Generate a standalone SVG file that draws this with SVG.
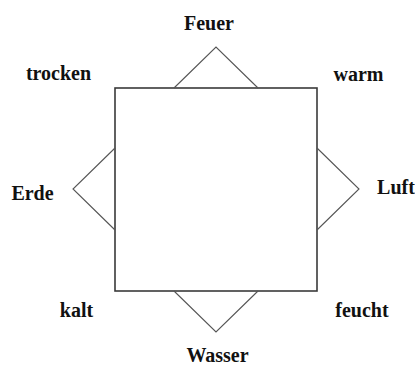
<svg xmlns="http://www.w3.org/2000/svg" width="415" height="369" viewBox="0 0 415 369">
<style>
.sq{fill:none;stroke:#3a3a3a;stroke-width:1.6}
.tri{fill:none;stroke:#555;stroke-width:1.1}
.lbl{font-family:"Liberation Serif","Times New Roman",serif;font-weight:bold;font-size:20px;fill:#111;text-anchor:middle}
</style>
<rect width="415" height="369" fill="#fff"/>
<g id="square"><rect class="sq" x="115" y="88" width="202" height="203"/></g>
<g id="connectors">
<polyline class="tri" points="174,88 216,47 258,88"/>
<polyline class="tri" points="317,148 359,189 317,230"/>
<polyline class="tri" points="174,291 216,332 258,291"/>
<polyline class="tri" points="115,148 73,189 115,230"/>
</g>
<g id="feuer"><text class="lbl" x="209" y="30">Feuer</text></g>
<g id="trocken"><text class="lbl" x="58.5" y="80">trocken</text></g>
<g id="warm"><text class="lbl" x="358.5" y="81">warm</text></g>
<g id="erde"><text class="lbl" x="32.5" y="200">Erde</text></g>
<g id="luft"><text class="lbl" x="396" y="194">Luft</text></g>
<g id="kalt"><text class="lbl" x="76.5" y="317">kalt</text></g>
<g id="feucht"><text class="lbl" x="362" y="317">feucht</text></g>
<g id="wasser"><text class="lbl" x="217.5" y="362">Wasser</text></g>
</svg>
